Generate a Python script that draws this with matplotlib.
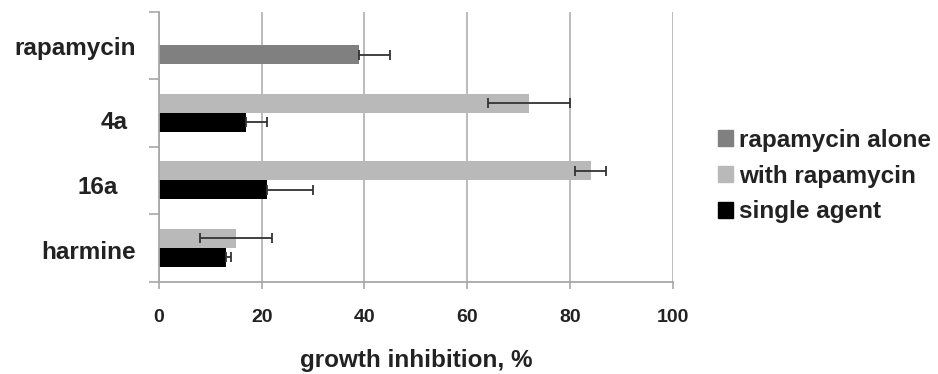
import numpy as np
import matplotlib
matplotlib.use("Agg")
import matplotlib.pyplot as plt
from matplotlib.patches import Patch

categories = ["rapamycin", "4a", "16a", "harmine"]
series_names = ["rapamycin alone", "with rapamycin", "single agent"]
rapamycin_alone = [39, None, None, None]
rapamycin_alone_err = [6, None, None, None]
with_rapamycin = [None, 72, 84, 15]
with_rapamycin_err = [None, 8, 3, 7]
single_agent = [None, 17, 21, 13]
single_agent_err = [None, 4, 9, 1]
xticks = [0, 20, 40, 60, 80, 100]

plt.rcParams['font.family'] = ['Liberation Sans', 'DejaVu Sans']
plt.rcParams['font.weight'] = 'bold'

W, H = 938, 374
fig = plt.figure(figsize=(W / 100, H / 100), dpi=100)
ax = fig.add_axes([159 / W, 1 - 281.7 / H, (672.7 - 159) / W, (281.7 - 11.7) / H])

c_dark, c_light, c_black = "#808080", "#b9b9b9", "#000000"
err_c = "#333333"
h = 0.282

def draw(vals, errs, offset, color, plus_only=False):
    idx = [i for i, v in enumerate(vals) if v is not None]
    y = np.array(idx, dtype=float) + offset
    v = [vals[i] for i in idx]
    e = [errs[i] for i in idx]
    ax.barh(y, v, height=h, color=color, zorder=2)
    xerr = [[0] * len(e), e] if plus_only else e
    ax.errorbar(v, y, xerr=xerr, fmt='none', ecolor=err_c, elinewidth=1.3,
                capsize=3.5, capthick=1.3, zorder=3)

draw(rapamycin_alone, rapamycin_alone_err, h / 2, c_dark, plus_only=True)
draw(with_rapamycin, with_rapamycin_err, -h / 2, c_light)
draw(single_agent, single_agent_err, h / 2, c_black, plus_only=True)

ax.set_xlim(0, 100)
ax.set_ylim(len(categories) - 0.5, -0.5)
ax.set_xticks(xticks)
ax.set_xticklabels([str(t) for t in xticks], fontsize=14, fontweight='bold', color='#222222')
ax.tick_params(axis='x', length=5, width=1.2, color='#a8a8a8', pad=15)
ax.set_yticks([])
ax.set_yticks(np.arange(-0.5, len(categories), 1.0), minor=True)
ax.tick_params(axis='y', which='minor', length=7, width=1.2, color='#a8a8a8')
ax.grid(axis='x', color='#b5b5b5', linewidth=1.3, zorder=0)
ax.set_axisbelow(True)
for s in ['top', 'right']:
    ax.spines[s].set_visible(False)
for s in ['left', 'bottom']:
    ax.spines[s].set_color('#a8a8a8')
    ax.spines[s].set_linewidth(1.3)

label_dx = [-23, -31, -41, -23]
label_dy = [0.144, 0.237, 0.197, 0.167]
for i, name in enumerate(categories):
    ax.annotate(name, xy=(0, i + label_dy[i]), xycoords=('axes fraction', 'data'),
                xytext=(label_dx[i], 0), textcoords='offset pixels',
                ha='right', va='baseline', fontsize=17.5, fontweight='bold', color='#222222')

ax.set_xlabel("growth inhibition, %", fontsize=17.5, fontweight='bold', color='#222222', labelpad=16)

handles = [Patch(color=c_dark), Patch(color=c_light), Patch(color=c_black)]
fig.legend(handles, series_names, loc='center left', bbox_to_anchor=(718 / W, 1 - 176 / H),
           frameon=False, borderpad=0, borderaxespad=0, handlelength=0.6, handleheight=0.6,
           handletextpad=0.25, labelspacing=0.53,
           prop={'size': 17.5, 'weight': 'bold'}, labelcolor='#222222')

fig.savefig("out.png", dpi=100)
